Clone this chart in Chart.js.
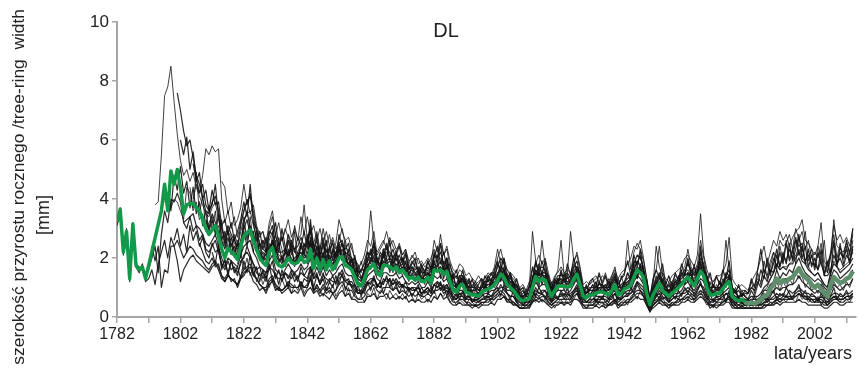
<!DOCTYPE html>
<html>
<head>
<meta charset="utf-8">
<script src="https://cdn.jsdelivr.net/npm/chart.js@4"></script>
<style>
  html, body { margin: 0; padding: 0; background: #fff; }
</style>
</head>
<body>
<canvas id="ringChart" width="859" height="369"></canvas>
<script>
// ==========================================
// TREE-RING WIDTH SERIES, SITE "DL"
// ==========================================

const tickYears = [1782, 1792, 1802, 1812, 1822, 1832, 1842, 1852, 1862, 1872, 1882, 1892,
  1902, 1912, 1922, 1932, 1942, 1952, 1962, 1972, 1982, 1992, 2002, 2012];
const labelYears = [1782, 1802, 1822, 1842, 1862, 1882, 1902, 1922, 1942, 1962, 1982, 2002];
const yTicks = [0, 2, 4, 6, 8, 10];

// mean chronology (green), 1782-1980; gap 1792-1795
const meanStart = 1782;
const meanWidth = [
  3.2, 3.65, 2.2, 2.9, 1.3, 3.15, 1.75, 1.6, 1.7, 1.3,
  null, null, null, null, 3.6, 4.5, 3.6, 4.95, 4.5, 5.0,
  4.4, 3.5, 3.8, 3.85, 3.85, 3.7, 3.6, 3.3, 3.0, 2.8,
  2.95, 3.1, 2.75, 2.3, 2.0, 2.35, 2.2, 2.1, 1.95, 2.4,
  2.75, 2.85, 2.95, 2.6, 2.3, 2.0, 1.85, 1.75, 2.2, 2.35,
  1.9, 1.75, 1.7, 1.8, 2.0, 1.85, 1.8, 1.85, 2.05, 1.85,
  1.9, 2.3, 1.65, 2.0, 1.6, 1.95, 1.6, 1.9, 1.6, 1.75,
  2.0, 2.05, 1.75, 1.7, 1.6, 1.35, 1.1, 1.05, 1.3, 1.6,
  1.7, 1.8, 1.5, 1.4, 1.75, 1.75, 1.7, 1.6, 1.7, 1.5,
  1.6, 1.45, 1.3, 1.35, 1.25, 1.35, 1.2, 1.2, 1.35, 1.15,
  1.6, 1.55, 1.6, 1.45, 1.55, 1.2, 0.9, 0.85, 1.05, 1.1,
  0.85, 0.8, 0.75, 0.75, 0.7, 0.85, 0.9, 0.95, 1.0, 1.1,
  1.25, 1.45, 1.35, 1.1, 1.0, 0.9, 0.75, 0.6, 0.55, 0.6,
  0.62, 1.0, 1.37, 1.2, 1.3, 1.25, 0.95, 0.7, 0.9, 1.05,
  1.05, 1.05, 1.0, 1.05, 1.3, 1.45, 1.1, 0.7, 0.65, 0.75,
  0.75, 0.8, 0.85, 0.85, 0.8, 0.75, 0.9, 1.1, 0.75, 0.8,
  0.95, 1.0, 1.1, 1.35, 1.6, 1.5, 1.35, 0.8, 0.42, 0.75,
  0.95, 1.15, 0.9, 0.8, 0.7, 0.8, 0.9, 1.0, 1.1, 1.25,
  1.35, 1.2, 1.05, 1.3, 1.55, 1.4, 1.0, 0.75, 0.75, 0.8,
  0.8, 0.95, 1.1, 1.2, 0.7, 0.6, 0.55, 0.6, 0.5,
];

// recent part of the mean (grey-green), 1980-2014
const recentStart = 1980;
const recentWidth = [
  0.5, 0.45, 0.5, 0.45, 0.5, 0.6, 0.7, 0.75, 0.95, 1.1, 1.3,
  1.15, 1.25, 1.2, 1.3, 1.35, 1.5, 1.65, 1.45, 1.35, 1.25,
  1.1, 1.0, 1.1, 0.95, 0.8, 0.7, 1.1, 1.35, 1.25, 1.15,
  1.2, 1.3, 1.35, 1.55,
];

// individual trees (black), each runs to 2014
const treeA = [
  3.3, 3.5, 2.4, 2.8, 1.4, 3.0, 1.8, 1.7, 1.6, 1.4,
  1.6, 2.0, 2.4, 1.5, 2.8, 3.6, 3.2, 4.0, 3.9, 4.2,
  3.9, 3.2, 3.3, 3.4, 3.5, 3.1, 3.0, 2.8, 2.5, 2.4,
  2.6, 2.8, 2.4, 2.0, 1.7, 2.0, 1.9, 1.8, 1.7, 2.1,
  2.4, 2.5, 2.6, 2.2, 2.0, 1.7, 1.6, 1.5, 1.9, 2.1,
  1.6, 1.5, 1.4, 1.6, 1.8, 1.6, 1.5, 1.6, 1.8, 1.6,
  1.7, 2.0, 1.4, 1.7, 1.4, 1.7, 1.4, 1.6, 1.4, 1.5,
  1.7, 1.8, 1.5, 1.4, 1.4, 1.1, 0.9, 0.9, 1.1, 1.4,
  1.5, 1.6, 1.3, 1.2, 1.5, 1.5, 1.4, 1.4, 1.5, 1.3,
  1.4, 1.2, 1.1, 1.2, 1.1, 1.2, 1.0, 1.0, 1.2, 1.0,
  1.4, 1.3, 1.4, 1.2, 1.3, 1.0, 0.8, 0.7, 0.9, 0.9,
  0.7, 0.7, 0.6, 0.6, 0.6, 0.7, 0.8, 0.8, 0.9, 0.9,
  1.1, 1.3, 1.2, 0.9, 0.9, 0.8, 0.6, 0.5, 0.5, 0.5,
  0.5, 0.9, 1.2, 1.0, 1.1, 1.1, 0.8, 0.6, 0.8, 0.9,
  0.9, 0.9, 0.8, 0.9, 1.1, 1.3, 0.9, 0.6, 0.5, 0.6,
  0.6, 0.7, 0.7, 0.7, 0.7, 0.6, 0.8, 0.9, 0.6, 0.7,
  0.8, 0.9, 0.9, 1.2, 1.4, 1.3, 1.1, 0.7, 0.3, 0.6,
  0.8, 1.0, 0.8, 0.7, 0.6, 0.7, 0.8, 0.8, 0.9, 1.1,
  1.2, 1.0, 0.9, 1.1, 1.3, 1.2, 0.8, 0.6, 0.6, 0.7,
  0.7, 0.8, 0.9, 1.0, 0.6, 0.5, 0.5, 0.5, 0.4, 0.4,
  0.4, 0.4, 0.4, 0.5, 0.6, 0.6, 0.8, 0.9, 1.0, 0.9,
  1.0, 1.0, 1.1, 1.1, 1.2, 1.4, 1.2, 1.1, 1.0, 0.9,
  0.8, 0.9, 0.8, 0.7, 0.6, 0.9, 1.1, 1.0, 0.9, 1.0,
  1.1, 1.1, 1.3,
];
const treeB = [
  3.1, 3.7, 2.1, 3.0, 1.2, 3.2, 1.7, 1.5, 1.8, 1.2,
  1.3, 1.6, 1.1, 1.8, 2.2, 2.6, 2.0, 2.7, 2.4, 2.6,
  2.3, 2.0, 2.2, 2.4, 2.3, 2.1, 2.0, 1.9, 1.7, 1.6,
  1.8, 1.9, 1.7, 1.4, 1.2, 1.4, 1.3, 1.2, 1.1, 1.4,
  1.6, 1.7, 1.8, 1.5, 1.3, 1.1, 1.0, 1.0, 1.3, 1.4,
  1.1, 1.0, 0.9, 1.0, 1.2, 1.1, 1.0, 1.0, 1.2, 1.0,
  1.1, 1.4, 0.9, 1.1, 0.9, 1.1, 0.9, 1.0, 0.8, 0.9,
  1.1, 1.2, 1.0, 0.9, 0.9, 0.7, 0.6, 0.6, 0.7, 0.9,
  1.0, 1.1, 0.9, 0.8, 1.0, 1.0, 1.0, 0.9, 1.0, 0.8,
  0.9, 0.8, 0.7, 0.8, 0.7, 0.8, 0.7, 0.7, 0.8, 0.7,
  0.9, 0.9, 1.0, 0.8, 0.9, 0.7, 0.5, 0.5, 0.6, 0.6,
  0.5, 0.5, 0.4, 0.4, 0.4, 0.5, 0.5, 0.6, 0.6, 0.7,
  0.8, 0.9, 0.8, 0.6, 0.6, 0.5, 0.4, 0.3, 0.3, 0.4,
  0.4, 0.6, 0.8, 0.7, 0.8, 0.7, 0.5, 0.4, 0.5, 0.6,
  0.6, 0.6, 0.6, 0.6, 0.8, 0.9, 0.6, 0.4, 0.4, 0.4,
  0.4, 0.5, 0.5, 0.5, 0.5, 0.4, 0.5, 0.6, 0.4, 0.5,
  0.5, 0.6, 0.6, 0.8, 0.9, 0.9, 0.8, 0.5, 0.2, 0.4,
  0.5, 0.7, 0.5, 0.5, 0.4, 0.5, 0.5, 0.6, 0.6, 0.7,
  0.8, 0.7, 0.6, 0.8, 0.9, 0.8, 0.6, 0.4, 0.4, 0.5,
  0.5, 0.5, 0.6, 0.7, 0.4, 0.4, 0.3, 0.4, 0.3, 0.3,
  0.3, 0.3, 0.3, 0.3, 0.4, 0.4, 0.4, 0.5, 0.6, 0.5,
  0.6, 0.6, 0.6, 0.6, 0.7, 0.8, 0.7, 0.6, 0.6, 0.5,
  0.5, 0.5, 0.5, 0.4, 0.4, 0.5, 0.6, 0.6, 0.5, 0.5,
  0.6, 0.6, 0.7,
];
const treeC = [
  3.8, 3.9, 5.5, 7.5, 7.8, 8.5, 7.3, 6.2,
  5.3, 4.8, 5.0, 4.6, 4.9, 4.4, 4.1, 3.8, 3.5, 3.4,
  3.7, 3.9, 3.3, 2.8, 2.5, 2.9, 2.7, 2.5, 2.3, 2.9,
  3.3, 3.5, 3.6, 3.1, 2.7, 2.3, 2.2, 2.1, 2.6, 2.9,
  2.3, 2.1, 2.0, 2.1, 2.5, 2.3, 2.2, 2.2, 2.5, 2.3,
  2.4, 2.9, 2.0, 2.4, 2.0, 2.4, 1.9, 2.3, 1.9, 2.1,
  2.4, 2.5, 2.1, 2.0, 1.9, 1.6, 1.3, 1.2, 1.5, 1.9,
  2.0, 2.2, 1.8, 1.7, 2.1, 2.2, 2.0, 1.9, 2.1, 1.8,
  1.9, 1.7, 1.5, 1.6, 1.5, 1.6, 1.4, 1.4, 1.6, 1.4,
  1.9, 1.9, 2.0, 1.7, 1.9, 1.4, 1.1, 1.0, 1.3, 1.3,
  1.0, 1.0, 0.9, 0.9, 0.8, 1.0, 1.1, 1.1, 1.2, 1.3,
  1.5, 1.7, 1.6, 1.3, 1.2, 1.1, 0.9, 0.7, 0.7, 0.7,
  0.8, 1.2, 1.6, 1.4, 1.5, 1.5, 1.1, 0.8, 1.1, 1.3,
  1.3, 1.2, 1.2, 1.3, 1.6, 1.7, 1.3, 0.8, 0.8, 0.9,
  0.9, 1.0, 1.0, 1.0, 1.0, 0.9, 1.1, 1.3, 0.9, 1.0,
  1.1, 1.2, 1.3, 1.6, 1.9, 1.8, 1.6, 1.0, 0.5, 0.9,
  1.1, 1.4, 1.1, 1.0, 0.8, 1.0, 1.1, 1.2, 1.3, 1.5,
  1.6, 1.4, 1.3, 1.6, 1.9, 1.7, 1.2, 0.9, 0.9, 1.0,
  1.0, 1.1, 1.3, 1.4, 0.8, 0.7, 0.7, 0.7, 0.6, 0.6,
  0.7, 0.6, 0.7, 0.8, 0.9, 1.0, 1.3, 1.5, 1.8, 1.6,
  1.7, 1.7, 1.8, 1.9, 2.1, 2.3, 2.0, 1.9, 1.7, 1.5,
  1.4, 1.5, 1.3, 1.1, 1.0, 1.5, 1.9, 1.7, 1.6, 1.7,
  1.8, 1.9, 2.2,
];
const treeD = [
  2.4, 1.9, 2.4, 1.0, 1.6, 1.5, 2.4, 2.4, 1.9,
  1.2, 1.6, 1.8, 2.0, 2.1, 1.9, 1.8, 1.7, 1.6, 1.5,
  1.7, 1.8, 1.6, 1.3, 1.2, 1.4, 1.3, 1.2, 1.1, 1.3,
  1.5, 1.6, 1.7, 1.4, 1.3, 1.1, 1.0, 0.9, 1.2, 1.3,
  1.0, 0.9, 0.9, 1.0, 1.1, 1.0, 1.0, 1.0, 1.1, 1.0,
  1.0, 1.3, 0.9, 1.0, 0.8, 1.0, 0.8, 0.9, 0.8, 0.9,
  1.3, 1.4, 1.2, 1.1, 1.1, 0.9, 0.8, 0.8, 0.9, 1.1,
  1.2, 1.3, 1.1, 1.0, 1.2, 1.3, 1.2, 1.1, 1.2, 1.0,
  1.1, 1.0, 0.9, 1.0, 0.9, 1.0, 0.8, 0.9, 1.0, 0.8,
  1.1, 1.0, 1.1, 0.9, 1.0, 0.8, 0.6, 0.6, 0.7, 0.7,
  0.5, 0.4, 0.4, 0.4, 0.4, 0.5, 0.5, 0.5, 0.6, 0.6,
  0.7, 0.8, 0.7, 0.6, 0.5, 0.5, 0.4, 0.3, 0.3, 0.3,
  0.4, 0.5, 0.7, 0.6, 0.7, 0.7, 0.5, 0.4, 0.5, 0.5,
  0.5, 0.5, 0.5, 0.5, 0.7, 0.8, 0.6, 0.4, 0.3, 0.4,
  0.4, 0.4, 0.5, 0.5, 0.4, 0.4, 0.5, 0.6, 0.4, 0.4,
  0.5, 0.5, 0.6, 0.7, 0.8, 0.8, 0.7, 0.4, 0.2, 0.4,
  0.5, 0.6, 0.5, 0.4, 0.4, 0.4, 0.5, 0.5, 0.6, 0.6,
  0.7, 0.6, 0.6, 0.7, 0.8, 0.7, 0.5, 0.4, 0.4, 0.4,
  0.4, 0.5, 0.6, 0.6, 0.4, 0.3, 0.3, 0.3, 0.3, 0.3,
  0.3, 0.3, 0.3, 0.3, 0.4, 0.4, 0.5, 0.5, 0.6, 0.6,
  0.6, 0.7, 0.6, 0.7, 0.7, 0.8, 0.7, 0.7, 0.6, 0.6,
  0.5, 0.6, 0.5, 0.5, 0.4, 0.6, 0.7, 0.6, 0.6, 0.6,
  0.7, 0.7, 0.8,
];
const treeE = [
  7.6,
  7.0, 6.3, 5.8, 6.0, 5.4, 4.8, 4.5, 4.0, 3.6, 3.5,
  3.9, 4.1, 3.6, 3.0, 2.7, 3.1, 2.8, 2.6, 2.4, 3.1,
  3.6, 3.9, 4.1, 3.4, 2.9, 2.5, 2.3, 2.2, 2.8, 3.1,
  2.4, 2.2, 2.2, 2.3, 2.6, 2.4, 2.3, 2.4, 2.7, 2.4,
  2.5, 3.0, 2.2, 2.6, 2.1, 2.5, 2.0, 2.4, 2.0, 2.2,
  2.5, 2.6, 2.2, 2.1, 2.0, 1.7, 1.4, 1.3, 1.6, 2.0,
  2.2, 2.4, 1.9, 1.8, 2.3, 2.3, 2.2, 2.0, 2.2, 1.9,
  2.0, 1.8, 1.6, 1.7, 1.6, 1.7, 1.5, 1.5, 1.7, 1.5,
  2.1, 2.0, 2.2, 1.8, 2.0, 1.5, 1.2, 1.1, 1.4, 1.4,
  1.1, 1.0, 1.0, 1.0, 0.9, 1.1, 1.2, 1.2, 1.3, 1.4,
  1.7, 2.0, 1.8, 1.4, 1.3, 1.2, 1.0, 0.8, 0.7, 0.8,
  0.8, 1.3, 1.8, 1.6, 1.7, 1.6, 1.2, 0.9, 1.2, 1.4,
  1.4, 1.4, 1.3, 1.4, 1.7, 1.9, 1.4, 0.9, 0.8, 1.0,
  1.0, 1.0, 1.1, 1.1, 1.0, 1.0, 1.2, 1.4, 1.0, 1.0,
  1.2, 1.3, 1.4, 1.8, 2.1, 2.0, 1.7, 1.0, 0.6, 1.0,
  1.2, 1.5, 1.2, 1.0, 0.9, 1.0, 1.2, 1.3, 1.4, 1.6,
  1.8, 1.6, 1.4, 1.7, 2.0, 1.8, 1.3, 1.0, 1.0, 1.0,
  1.0, 1.2, 1.4, 1.6, 0.9, 0.8, 0.7, 0.8, 0.7, 0.6,
  0.7, 0.7, 0.7, 0.8, 1.0, 1.1, 1.3, 1.5, 1.8, 1.6,
  1.7, 1.6, 1.8, 1.8, 2.0, 2.2, 1.9, 1.8, 1.6, 1.5,
  1.4, 1.5, 1.3, 1.1, 1.0, 1.5, 1.8, 1.7, 1.5, 1.6,
  1.7, 1.8, 2.0,
];
const treeF = [
  3.9, 4.1, 3.7, 4.0, 3.9,
  3.6, 3.3, 4.4, 4.2, 3.6, 3.9, 3.3, 3.5, 2.9, 3.2,
  3.4, 2.9, 3.1, 2.4, 2.6, 2.2, 2.5, 2.0, 2.6, 2.4,
  3.1, 2.7, 3.4, 2.5, 2.6, 1.9, 2.2, 1.8, 2.5, 2.2,
  2.6, 1.8, 2.1, 1.7, 2.2, 2.0, 1.7, 2.1, 1.9, 2.3,
  1.8, 2.6, 1.7, 2.2, 1.5, 2.1, 1.8, 1.7, 2.0, 1.6,
  2.3, 1.9, 1.8, 2.0, 1.5, 1.6, 1.2, 1.3, 1.2, 1.8,
  1.6, 2.1, 1.4, 1.7, 1.6, 2.0, 1.5, 1.8, 1.5, 1.7,
  1.4, 1.7, 1.2, 1.5, 1.3, 1.2, 1.4, 1.1, 1.5, 1.2,
  1.5, 1.8, 1.4, 1.7, 1.3, 1.4, 1.0, 1.1, 0.9, 1.3,
  0.8, 1.0, 0.7, 0.9, 0.8, 0.7, 1.1, 0.9, 1.2, 1.0,
  1.4, 1.3, 1.6, 1.0, 1.2, 0.8, 0.9, 0.6, 0.7, 0.5,
  0.8, 0.9, 1.5, 1.1, 1.5, 1.2, 1.1, 0.6, 1.0, 0.9,
  1.2, 0.9, 1.2, 1.0, 1.4, 1.3, 1.2, 0.6, 0.8, 0.7,
  0.9, 0.7, 1.0, 0.8, 0.9, 0.7, 1.0, 1.1, 0.8, 0.9,
  0.9, 1.2, 1.0, 1.5, 1.4, 1.7, 1.2, 0.9, 0.4, 0.8,
  1.0, 1.1, 1.0, 0.8, 0.9, 0.7, 1.0, 0.9, 1.2, 1.1,
  1.5, 1.1, 1.2, 1.2, 1.7, 1.3, 1.1, 0.7, 0.9, 0.7,
  1.0, 0.8, 1.2, 1.1, 0.8, 0.6, 0.7, 0.5, 0.6, 0.5,
  0.6, 0.4, 0.6, 0.5, 0.7, 0.6, 0.9, 0.8, 1.2, 0.9,
  1.2, 1.0, 1.3, 1.1, 1.5, 1.3, 1.4, 1.0, 1.2, 0.9,
  1.0, 0.8, 1.1, 0.7, 0.8, 0.9, 1.2, 1.0, 1.1, 0.9,
  1.2, 1.0, 1.3,
];
const treeG = [
  2.6, 3.0,
  2.4, 2.8, 2.2, 3.1, 2.6, 2.9, 2.4, 2.7, 2.2, 2.0,
  2.5, 2.2, 2.3, 1.7, 1.9, 1.5, 1.9, 1.6, 1.4, 1.9,
  2.0, 2.4, 2.1, 1.8, 1.6, 1.7, 1.3, 1.5, 1.6, 1.9,
  1.3, 1.6, 1.2, 1.5, 1.3, 1.6, 1.4, 1.2, 1.7, 1.4,
  1.6, 1.7, 1.3, 1.5, 1.1, 1.4, 1.3, 1.2, 1.4, 1.1,
  1.5, 1.4, 1.2, 1.3, 1.0, 1.1, 0.8, 0.9, 0.8, 1.2,
  1.1, 1.4, 1.0, 1.2, 1.1, 1.4, 1.0, 1.3, 1.1, 1.2,
  1.0, 1.2, 0.9, 1.0, 1.0, 0.8, 1.0, 0.8, 0.9, 0.9,
  1.1, 1.0, 1.2, 0.9, 1.1, 0.8, 0.7, 0.6, 0.8, 0.7,
  0.6, 0.7, 0.5, 0.6, 0.5, 0.6, 0.6, 0.7, 0.6, 0.8,
  0.9, 1.1, 0.9, 0.8, 0.7, 0.7, 0.5, 0.5, 0.4, 0.5,
  0.5, 0.7, 0.9, 0.8, 0.8, 0.9, 0.6, 0.5, 0.7, 0.6,
  0.8, 0.6, 0.8, 0.7, 0.9, 1.0, 0.7, 0.5, 0.5, 0.5,
  0.5, 0.6, 0.5, 0.7, 0.5, 0.6, 0.6, 0.8, 0.5, 0.6,
  0.7, 0.7, 0.8, 0.9, 1.2, 1.0, 0.9, 0.6, 0.3, 0.5,
  0.7, 0.8, 0.6, 0.7, 0.5, 0.6, 0.7, 0.6, 0.8, 0.8,
  0.9, 0.8, 0.7, 0.9, 1.1, 0.9, 0.7, 0.5, 0.6, 0.5,
  0.6, 0.6, 0.8, 0.7, 0.5, 0.5, 0.4, 0.5, 0.4, 0.4,
  0.5, 0.4, 0.5, 0.4, 0.5, 0.6, 0.6, 0.7, 0.8, 0.7,
  0.8, 0.7, 0.9, 0.8, 0.9, 1.0, 0.9, 0.8, 0.8, 0.7,
  0.7, 0.6, 0.7, 0.6, 0.5, 0.7, 0.8, 0.8, 0.7, 0.7,
  0.8, 0.8, 0.9,
];
const treeH = [
  6.0, 5.5, 6.1, 5.0, 5.6, 4.7, 4.2, 4.5, 3.8, 3.6,
  4.3, 3.8, 3.9, 3.1, 3.3, 2.8, 3.2, 2.6, 2.9, 3.3,
  3.9, 3.4, 4.5, 3.2, 3.0, 2.4, 2.6, 2.2, 2.9, 2.8,
  3.2, 2.4, 2.7, 2.2, 2.8, 2.5, 2.2, 2.7, 2.4, 2.9,
  2.3, 3.3, 2.2, 2.8, 2.0, 2.6, 2.2, 2.3, 2.5, 2.0,
  2.8, 2.4, 2.3, 2.5, 1.9, 2.0, 1.5, 1.6, 1.6, 2.2,
  2.1, 2.6, 1.8, 2.2, 2.0, 2.5, 2.0, 2.3, 1.9, 2.1,
  1.8, 2.1, 1.6, 1.9, 1.7, 1.6, 1.8, 1.5, 1.9, 1.6,
  2.0, 2.4, 1.8, 2.2, 1.7, 1.8, 1.3, 1.4, 1.2, 1.6,
  1.1, 1.3, 1.0, 1.2, 1.0, 1.0, 1.4, 1.2, 1.5, 1.3,
  1.8, 1.6, 2.0, 1.3, 1.5, 1.1, 1.1, 0.8, 0.9, 0.7,
  1.0, 1.2, 1.9, 1.4, 1.9, 1.5, 1.4, 0.8, 1.2, 1.1,
  1.5, 1.2, 1.5, 1.3, 1.7, 1.7, 1.5, 0.8, 1.0, 0.9,
  1.1, 0.9, 1.2, 1.0, 1.1, 0.9, 1.2, 1.4, 1.0, 1.1,
  1.2, 1.5, 1.3, 1.9, 1.8, 2.1, 1.5, 1.1, 0.5, 1.0,
  1.3, 1.4, 1.2, 1.0, 1.1, 0.9, 1.2, 1.1, 1.5, 1.4,
  1.9, 1.4, 1.5, 1.5, 2.2, 1.6, 1.4, 0.9, 1.1, 0.9,
  1.2, 1.0, 1.5, 1.4, 1.0, 0.8, 0.9, 0.7, 0.8, 0.8,
  1.0, 0.9, 1.2, 1.0, 1.4, 1.2, 1.6, 1.5, 2.1, 1.7,
  2.1, 1.9, 2.3, 2.0, 2.6, 2.4, 2.5, 1.9, 2.1, 1.8,
  1.8, 1.6, 1.9, 1.4, 1.4, 1.6, 2.1, 1.8, 2.0, 1.7,
  2.1, 1.9, 2.3,
];
const treeI = [
  4.0, 4.5, 4.2, 4.8, 5.7, 5.5,
  5.8, 5.6, 5.7, 4.0, 3.2, 3.6, 3.0, 3.4, 2.7, 3.2,
  3.6, 4.0, 3.5, 3.8, 3.1, 2.8, 2.9, 2.5, 3.2, 3.6,
  2.8, 3.2, 2.6, 2.9, 3.3, 2.7, 3.0, 2.6, 3.4, 2.8,
  3.4, 2.8, 3.1, 2.6, 3.0, 2.5, 2.9, 2.4, 2.7, 2.3,
  2.6, 3.0, 2.4, 2.2, 2.5, 1.9, 1.8, 1.5, 1.9, 2.3,
  3.6, 2.5, 2.2, 2.4, 2.6, 2.3, 2.7, 2.4, 2.2, 2.5,
  2.1, 2.3, 1.9, 2.0, 2.2, 1.8, 1.9, 1.7, 1.8, 2.0,
  2.3, 2.0, 2.8, 2.1, 2.4, 1.9, 1.6, 1.5, 1.8, 1.7,
  1.4, 1.5, 1.3, 1.2, 1.4, 1.2, 1.3, 1.5, 1.4, 1.7,
  2.3, 1.8, 2.0, 1.6, 1.5, 1.4, 1.2, 1.0, 1.1, 0.9,
  1.0, 1.6, 1.8, 2.1, 1.8, 2.0, 1.5, 1.1, 1.4, 1.5,
  1.7, 1.5, 1.6, 1.5, 1.8, 2.2, 1.7, 1.1, 1.2, 1.1,
  1.3, 1.4, 1.2, 1.4, 1.3, 1.2, 1.4, 1.6, 1.3, 1.5,
  1.6, 1.8, 2.0, 2.4, 2.3, 2.6, 2.0, 1.3, 0.7, 1.2,
  1.6, 2.4, 1.5, 1.3, 1.2, 1.4, 1.5, 1.6, 1.7, 2.0,
  2.1, 1.9, 1.7, 2.1, 3.5, 2.1, 1.6, 1.3, 1.2, 1.4,
  1.4, 1.5, 1.8, 2.7, 1.3, 1.1, 1.0, 1.1, 1.0, 0.9,
  1.2, 1.4, 1.6, 2.0, 2.4, 1.8, 2.2, 2.6, 2.4, 2.9,
  2.6, 2.8, 2.4, 2.7, 2.9, 3.0, 3.3, 2.6, 2.5, 2.3,
  2.1, 2.4, 3.2, 1.9, 1.7, 2.2, 3.1, 2.6, 2.8, 2.5,
  2.7, 2.4, 3.0,
];
const treeJ = [
  2.5, 2.2, 1.9, 1.8,
  2.0, 1.7, 1.8, 1.4, 1.3, 1.5, 1.2, 1.3, 1.0, 1.3,
  1.4, 1.6, 1.5, 1.2, 1.1, 0.9, 1.0, 0.8, 1.1, 1.2,
  0.9, 1.0, 0.8, 0.9, 1.0, 0.8, 0.9, 0.8, 1.0, 0.7,
  0.9, 1.0, 0.8, 0.9, 0.7, 0.8, 0.7, 0.6, 0.8, 0.6,
  0.8, 0.9, 0.7, 0.8, 0.6, 0.6, 0.5, 0.5, 0.5, 0.7,
  0.7, 0.8, 0.6, 0.7, 0.7, 0.8, 0.6, 0.7, 0.6, 0.7,
  0.6, 0.7, 0.5, 0.6, 0.5, 0.6, 0.5, 0.5, 0.6, 0.5,
  0.7, 0.6, 0.8, 0.6, 0.7, 0.5, 0.4, 0.4, 0.5, 0.4,
  0.4, 0.4, 0.3, 0.4, 0.3, 0.4, 0.4, 0.4, 0.5, 0.4,
  0.6, 0.6, 0.7, 0.5, 0.5, 0.4, 0.4, 0.3, 0.3, 0.3,
  0.3, 0.5, 0.6, 0.5, 0.6, 0.5, 0.4, 0.3, 0.4, 0.4,
  0.5, 0.4, 0.5, 0.4, 0.6, 0.6, 0.5, 0.3, 0.3, 0.3,
  0.3, 0.4, 0.3, 0.4, 0.3, 0.4, 0.4, 0.5, 0.3, 0.4,
  0.4, 0.5, 0.5, 0.6, 0.7, 0.6, 0.6, 0.4, 0.2, 0.3,
  0.4, 0.5, 0.4, 0.4, 0.3, 0.4, 0.4, 0.4, 0.5, 0.5,
  0.6, 0.5, 0.5, 0.6, 0.7, 0.6, 0.5, 0.3, 0.4, 0.3,
  0.4, 0.4, 0.5, 0.5, 0.3, 0.3, 0.3, 0.3, 0.3, 0.3,
  0.3, 0.3, 0.3, 0.3, 0.3, 0.4, 0.4, 0.4, 0.5, 0.4,
  0.5, 0.5, 0.5, 0.5, 0.5, 0.6, 0.5, 0.5, 0.4, 0.4,
  0.4, 0.4, 0.4, 0.3, 0.3, 0.4, 0.5, 0.5, 0.4, 0.4,
  0.5, 0.5, 0.5,
];
const treeK = [
  3.3, 3.0,
  3.5, 3.2, 2.9, 2.6, 2.3, 2.7, 2.2, 2.4, 2.0, 2.6,
  3.0, 3.3, 2.8, 2.9, 2.2, 2.1, 1.9, 2.0, 2.3, 2.6,
  2.1, 1.9, 2.0, 1.8, 2.3, 1.9, 2.0, 2.1, 2.2, 2.0,
  2.1, 2.5, 1.9, 2.2, 1.8, 2.1, 1.7, 2.0, 1.8, 1.9,
  2.1, 2.3, 1.9, 1.8, 1.7, 1.4, 1.2, 1.1, 1.4, 1.7,
  1.9, 1.9, 1.6, 1.5, 1.9, 1.8, 1.9, 1.7, 1.8, 1.6,
  1.7, 1.5, 1.4, 1.4, 1.3, 1.5, 1.3, 1.3, 1.4, 1.2,
  1.7, 1.6, 1.7, 1.5, 1.7, 1.3, 1.0, 0.9, 1.2, 1.2,
  0.9, 0.9, 0.8, 0.8, 0.8, 0.9, 1.0, 1.0, 1.1, 1.2,
  1.3, 1.6, 1.4, 1.2, 1.1, 1.0, 0.8, 0.7, 0.6, 0.7,
  0.7, 1.1, 1.5, 1.3, 1.4, 1.4, 1.0, 0.8, 1.0, 1.2,
  1.1, 1.2, 1.1, 1.2, 1.4, 1.6, 1.2, 0.8, 0.7, 0.8,
  0.8, 0.9, 0.9, 0.9, 0.9, 0.8, 1.0, 1.2, 0.8, 0.9,
  1.0, 1.1, 1.2, 1.5, 1.7, 1.6, 1.5, 0.9, 0.4, 0.8,
  1.0, 1.2, 1.0, 0.9, 0.8, 0.9, 1.0, 1.1, 1.2, 1.3,
  1.4, 1.3, 1.1, 1.4, 1.7, 1.5, 1.1, 0.8, 0.8, 0.9,
  0.9, 1.0, 1.2, 1.3, 0.8, 0.6, 0.6, 0.6, 0.5, 0.5,
  0.5, 0.5, 0.5, 0.6, 0.7, 0.8, 0.9, 1.1, 1.3, 1.2,
  1.3, 1.3, 1.3, 1.4, 1.5, 1.7, 1.5, 1.4, 1.3, 1.2,
  1.0, 1.1, 1.1, 0.9, 0.8, 1.1, 1.4, 1.3, 1.2, 1.2,
  1.3, 1.4, 1.6,
];
const treeL = [
  4.6, 4.4, 3.5, 3.9, 3.1, 3.3, 3.7,
  4.5, 3.8, 4.2, 3.6, 3.0, 2.7, 2.9, 2.4, 3.0, 3.4,
  2.7, 2.5, 2.6, 3.0, 2.7, 2.4, 3.1, 2.6, 2.8, 3.8,
  2.6, 3.1, 2.5, 2.9, 2.3, 3.0, 2.4, 2.8, 2.2, 2.5,
  3.3, 2.9, 2.6, 2.7, 2.3, 2.0, 1.7, 1.8, 2.1, 2.6,
  2.4, 2.9, 2.1, 2.3, 2.5, 2.9, 2.4, 2.6, 2.3, 2.4,
  2.1, 2.3, 1.8, 2.1, 1.9, 2.0, 1.7, 1.8, 2.0, 1.8,
  2.6, 2.2, 2.5, 2.1, 2.3, 1.7, 1.5, 1.3, 1.6, 1.5,
  1.3, 1.2, 1.2, 1.1, 1.2, 1.3, 1.2, 1.4, 1.5, 1.5,
  2.0, 2.3, 1.8, 1.6, 1.4, 1.3, 1.1, 0.9, 1.0, 0.9,
  1.0, 2.9, 1.9, 1.6, 2.6, 1.7, 1.4, 1.0, 1.3, 1.6,
  2.6, 1.4, 1.5, 2.9, 1.9, 2.1, 1.6, 1.0, 1.0, 1.1,
  1.2, 1.3, 1.4, 1.2, 1.5, 1.1, 1.4, 1.7, 1.1, 1.3,
  1.4, 2.6, 1.6, 2.2, 2.5, 2.3, 1.9, 1.3, 0.6, 1.1,
  2.4, 1.7, 1.4, 1.2, 1.0, 1.2, 1.4, 1.3, 1.6, 1.7,
  2.3, 1.7, 1.5, 1.8, 2.6, 2.0, 1.4, 1.1, 1.2, 1.3,
  1.2, 1.4, 2.6, 1.6, 1.0, 0.9, 1.0, 0.9, 0.9, 0.8,
  1.0, 1.1, 1.3, 1.2, 1.6, 1.4, 1.9, 2.2, 2.0, 2.6,
  2.4, 2.5, 2.8, 2.3, 3.0, 2.6, 2.9, 2.3, 2.6, 2.0,
  2.2, 2.0, 2.5, 1.7, 1.5, 2.0, 3.3, 2.4, 2.3, 2.2,
  2.5, 2.2, 2.8,
];
const treeM = [
  3.2, 3.0, 3.4, 2.9, 3.1, 2.6, 2.8, 2.3, 2.2,
  2.4, 2.6, 2.2, 1.8, 1.6, 1.9, 1.6, 1.7, 1.5, 1.8,
  2.1, 2.2, 2.0, 1.8, 1.5, 1.4, 1.5, 1.2, 1.7, 1.6,
  1.4, 1.3, 1.3, 1.5, 1.4, 1.3, 1.5, 1.3, 1.5, 1.4,
  1.3, 1.7, 1.3, 1.4, 1.2, 1.5, 1.1, 1.3, 1.2, 1.2,
  1.4, 1.6, 1.3, 1.2, 1.2, 1.0, 0.8, 0.8, 1.0, 1.2,
  1.3, 1.3, 1.1, 1.0, 1.3, 1.2, 1.3, 1.1, 1.3, 1.1,
  1.1, 1.0, 1.0, 0.9, 0.9, 1.0, 0.8, 0.9, 1.0, 0.8,
  1.1, 1.2, 1.1, 1.0, 1.1, 0.9, 0.7, 0.6, 0.8, 0.8,
  0.6, 0.6, 0.6, 0.5, 0.5, 0.6, 0.7, 0.7, 0.7, 0.8,
  0.9, 1.0, 1.0, 0.8, 0.7, 0.7, 0.5, 0.4, 0.4, 0.4,
  0.5, 0.7, 1.0, 0.8, 0.9, 0.9, 0.7, 0.5, 0.6, 0.7,
  0.7, 0.8, 0.7, 0.8, 0.9, 1.1, 0.8, 0.5, 0.5, 0.5,
  0.6, 0.6, 0.6, 0.6, 0.6, 0.5, 0.7, 0.8, 0.6, 0.6,
  0.7, 0.8, 0.8, 1.0, 1.2, 1.1, 1.0, 0.6, 0.3, 0.5,
  0.7, 0.9, 0.7, 0.6, 0.5, 0.6, 0.7, 0.7, 0.8, 0.9,
  1.0, 0.9, 0.8, 1.0, 1.1, 1.0, 0.7, 0.5, 0.5, 0.6,
  0.6, 0.7, 0.8, 0.8, 0.5, 0.4, 0.4, 0.4, 0.4, 0.4,
  0.4, 0.4, 0.4, 0.4, 0.5, 0.5, 0.6, 0.6, 0.7, 0.6,
  0.7, 0.7, 0.7, 0.7, 0.8, 0.9, 0.8, 0.7, 0.7, 0.6,
  0.6, 0.6, 0.6, 0.5, 0.5, 0.6, 0.7, 0.7, 0.6, 0.6,
  0.7, 0.7, 0.8,
];
const treeN = [
  5.2, 4.6, 4.9, 4.0, 4.3, 3.6,
  3.8, 4.5, 3.4, 3.0, 2.6, 2.9, 2.4, 2.7, 2.2, 2.5,
  3.2, 3.6, 3.0, 2.8, 2.4, 2.2, 2.0, 2.1, 2.4, 2.5,
  2.3, 2.0, 1.8, 2.2, 2.1, 2.3, 1.8, 2.0, 2.4, 2.1,
  2.0, 2.7, 1.8, 2.4, 1.9, 2.2, 1.8, 2.1, 1.7, 2.2,
  2.2, 2.5, 2.0, 1.8, 2.0, 1.5, 1.3, 1.2, 1.6, 1.7,
  2.0, 2.0, 1.7, 1.6, 2.1, 1.9, 2.0, 1.8, 2.0, 1.7,
  1.8, 1.6, 1.5, 1.6, 1.4, 1.6, 1.3, 1.4, 1.5, 1.3,
  1.8, 1.7, 1.9, 1.6, 1.7, 1.4, 1.1, 1.0, 1.2, 1.3,
  1.0, 0.9, 0.9, 0.9, 0.8, 1.0, 1.0, 1.1, 1.1, 1.3,
  1.4, 1.8, 1.5, 1.3, 1.2, 1.1, 0.9, 0.7, 0.7, 0.8,
  0.8, 1.2, 1.6, 1.4, 1.5, 1.5, 1.1, 0.8, 1.1, 1.3,
  1.2, 1.3, 1.2, 1.2, 1.5, 1.7, 1.3, 0.8, 0.8, 0.9,
  0.9, 0.9, 1.0, 1.0, 0.9, 0.9, 1.1, 1.3, 0.9, 0.9,
  1.1, 1.2, 1.3, 1.6, 1.9, 1.7, 1.6, 1.0, 0.4, 0.9,
  1.1, 1.3, 1.1, 0.9, 0.9, 0.9, 1.1, 1.2, 1.3, 1.4,
  1.5, 1.4, 1.2, 1.5, 1.8, 1.6, 1.2, 0.9, 0.8, 0.9,
  1.0, 1.1, 1.3, 1.4, 0.8, 0.7, 0.6, 0.6, 0.6, 0.5,
  0.6, 0.6, 0.6, 0.7, 0.9, 0.9, 1.1, 1.2, 1.6, 1.3,
  1.5, 1.4, 1.6, 1.5, 1.8, 2.0, 1.7, 1.5, 1.4, 1.3,
  1.2, 1.3, 1.2, 1.0, 0.9, 1.3, 1.6, 1.5, 1.3, 1.4,
  1.5, 1.6, 1.8,
];
const treeO = [
  4.4, 3.7, 4.9, 3.5, 4.1, 3.0, 3.8,
  2.9, 3.6, 2.6, 3.3, 2.4, 3.0, 2.1, 2.8, 2.5, 2.2,
  3.4, 2.6, 3.0, 2.2, 2.9, 2.0, 2.6, 2.3, 1.9, 2.8,
  2.0, 2.7, 2.3, 1.8, 2.6, 2.1, 2.9, 1.9, 2.4, 2.2,
  2.8, 2.0, 2.5, 1.8, 2.3, 2.7, 1.9, 2.2, 2.6, 1.8,
  2.3, 1.9, 2.6, 2.0, 1.7, 2.1, 1.5, 1.9, 1.4, 2.0,
  1.8, 2.3, 1.6, 2.1, 1.7, 2.4, 1.9, 1.5, 2.2, 1.7,
  2.0, 1.5, 1.8, 1.3, 1.9, 1.4, 1.7, 1.6, 1.2, 1.8,
  1.5, 2.1, 1.3, 1.9, 1.6, 1.2, 1.5, 0.9, 1.4, 1.0,
  1.3, 0.8, 1.1, 1.0, 0.7, 1.2, 0.9, 1.3, 1.0, 1.5,
  1.2, 1.7, 1.1, 1.5, 0.9, 1.2, 0.8, 1.0, 0.6, 0.9,
  1.2, 0.8, 1.4, 1.0, 1.6, 1.1, 0.9, 1.2, 0.7, 1.3,
  1.0, 1.5, 0.9, 1.3, 1.1, 1.6, 0.8, 1.0, 0.6, 0.9,
  1.1, 0.7, 1.2, 0.9, 1.0, 1.3, 0.8, 1.1, 0.9, 1.4,
  1.0, 1.5, 1.2, 1.8, 1.3, 1.6, 1.1, 1.3, 0.6, 1.0,
  1.4, 1.0, 1.5, 0.8, 1.2, 0.9, 1.3, 1.0, 1.6, 1.1,
  1.5, 1.2, 1.8, 1.1, 1.6, 1.3, 0.9, 1.2, 0.8, 1.1,
  0.9, 1.3, 1.0, 1.4, 0.7, 1.0, 0.6, 0.9, 0.7, 0.8,
  1.2, 0.8, 1.5, 1.1, 1.9, 1.3, 1.7, 2.2, 1.6, 2.4,
  1.9, 2.6, 2.0, 2.3, 1.8, 2.7, 2.2, 2.9, 1.9, 2.3,
  1.7, 2.4, 1.9, 2.6, 1.5, 2.1, 2.8, 2.0, 2.5, 1.8,
  2.4, 1.9, 2.6,
];
const treeP = [
  2.2, 1.8, 2.5, 1.6, 2.0, 1.4, 1.9, 1.5, 1.7, 1.3,
  1.9, 1.5, 2.1, 1.4, 1.7, 1.2, 1.6, 1.3, 1.8, 1.2,
  1.5, 1.1, 1.6, 1.3, 1.0, 1.5, 1.2, 1.4, 1.0, 1.3,
  1.2, 1.6, 1.0, 1.4, 1.1, 1.3, 0.9, 1.2, 1.0, 1.4,
  1.1, 1.5, 0.9, 1.2, 1.0, 0.8, 1.1, 0.7, 1.0, 1.2,
  0.9, 1.3, 1.0, 1.2, 0.8, 1.1, 1.3, 0.9, 1.1, 0.8,
  1.1, 0.8, 1.0, 0.7, 0.9, 1.1, 0.7, 0.9, 0.8, 1.0,
  0.8, 1.2, 0.9, 1.1, 0.7, 1.0, 0.6, 0.8, 0.6, 0.9,
  0.6, 0.8, 0.5, 0.7, 0.6, 0.9, 0.6, 0.8, 0.7, 0.9,
  1.0, 0.7, 1.1, 0.8, 0.6, 0.9, 0.5, 0.7, 0.4, 0.6,
  0.5, 0.9, 0.7, 1.0, 0.8, 0.6, 0.9, 0.5, 0.8, 0.6,
  0.9, 0.7, 1.0, 0.6, 0.8, 1.0, 0.6, 0.7, 0.5, 0.6,
  0.8, 0.5, 0.7, 0.6, 0.9, 0.6, 0.8, 0.5, 0.7, 0.6,
  0.9, 0.7, 1.0, 0.8, 1.1, 0.9, 0.7, 0.6, 0.3, 0.6,
  0.8, 0.6, 0.9, 0.7, 0.5, 0.8, 0.6, 0.9, 0.7, 1.0,
  0.8, 1.1, 0.7, 0.9, 1.2, 0.8, 0.6, 0.8, 0.5, 0.7,
  0.6, 0.8, 0.5, 0.9, 0.6, 0.4, 0.7, 0.5, 0.4, 0.6,
  0.5, 0.7, 0.4, 0.6, 0.8, 0.5, 0.7, 0.9, 0.6, 0.8,
  0.7, 1.0, 0.8, 0.6, 0.9, 1.1, 0.7, 0.9, 0.6, 0.8,
  0.7, 0.5, 0.8, 0.6, 0.9, 0.7, 1.0, 0.6, 0.8, 0.7,
  0.9, 0.6, 0.8,
];
const treeQ = [
  4.2, 3.6, 4.8, 4.3,
  5.1, 4.2, 4.6, 3.7, 4.4, 3.5, 3.9, 3.1, 3.6, 2.9,
  3.3, 2.8, 3.5, 2.6, 2.9, 2.3, 2.7, 2.2, 2.5, 2.0,
  2.9, 2.4, 3.1, 2.7, 2.2, 2.5, 1.9, 2.3, 2.0, 2.6,
  2.2, 2.5, 1.9, 2.3, 2.0, 2.4, 1.8, 2.2, 1.9, 2.5,
  2.1, 2.6, 1.8, 2.4, 2.0, 1.7, 2.3, 1.9, 2.2, 1.8,
  2.4, 2.0, 2.2, 1.7, 1.9, 1.5, 1.7, 1.3, 1.6, 1.9,
  2.3, 1.7, 2.0, 1.6, 2.2, 1.8, 1.6, 2.1, 1.7, 1.9,
  1.6, 1.9, 1.4, 1.7, 1.5, 1.3, 1.6, 1.2, 1.5, 1.4,
  1.9, 1.5, 1.7, 1.3, 1.8, 1.1, 1.4, 1.0, 1.2, 1.3,
  1.0, 1.2, 0.8, 1.1, 0.9, 1.0, 1.2, 0.8, 1.3, 1.1,
  1.5, 1.2, 1.7, 1.0, 1.4, 0.9, 1.1, 0.7, 0.8, 0.9,
  0.7, 1.4, 1.2, 1.6, 1.1, 1.4, 0.9, 1.0, 0.8, 1.2,
  1.3, 1.0, 1.4, 1.1, 1.5, 1.2, 1.0, 0.8, 1.1, 0.7,
  0.9, 1.2, 0.8, 1.1, 0.9, 1.2, 0.8, 1.0, 1.3, 0.9,
  1.2, 1.0, 1.4, 1.6, 1.3, 1.8, 1.2, 1.0, 0.5, 0.9,
  1.2, 1.0, 1.3, 1.1, 0.8, 1.2, 0.9, 1.4, 1.1, 1.3,
  1.2, 1.6, 1.1, 1.4, 1.9, 1.2, 1.0, 0.8, 1.1, 0.9,
  1.2, 0.9, 1.1, 1.4, 0.8, 0.9, 0.6, 0.8, 0.7, 0.6,
  0.9, 0.7, 1.1, 1.6, 1.3, 2.0, 1.5, 1.8, 2.3, 1.7,
  2.2, 1.8, 2.5, 1.9, 2.3, 2.8, 2.0, 2.4, 1.7, 2.1,
  1.6, 2.2, 1.8, 1.5, 1.9, 1.4, 2.6, 1.8, 2.2, 2.0,
  2.3, 1.8, 2.4,
];
const treeR = [
  1.8, 2.2,
  1.6, 2.0, 1.4, 1.7, 1.2, 1.5, 1.1, 1.4, 1.0, 1.3,
  1.1, 0.9, 1.3, 1.0, 1.2, 0.8, 1.1, 0.9, 1.2, 0.8,
  1.0, 1.3, 0.8, 1.1, 0.9, 0.7, 1.0, 0.8, 1.1, 0.7,
  0.9, 1.1, 0.7, 1.0, 0.6, 0.8, 0.6, 0.7, 0.5, 0.8,
  0.7, 1.0, 0.6, 0.9, 0.8, 0.6, 0.9, 0.7, 0.8, 0.6,
  0.8, 0.6, 0.9, 0.7, 0.5, 0.8, 0.6, 0.7, 0.5, 0.7,
  0.9, 0.6, 0.8, 0.7, 0.9, 0.5, 0.6, 0.4, 0.6, 0.5,
  0.4, 0.6, 0.5, 0.4, 0.6, 0.4, 0.5, 0.7, 0.5, 0.6,
  0.8, 0.6, 0.7, 0.5, 0.6, 0.4, 0.5, 0.3, 0.4, 0.4,
  0.3, 0.6, 0.5, 0.7, 0.5, 0.6, 0.4, 0.5, 0.3, 0.5,
  0.6, 0.4, 0.7, 0.5, 0.6, 0.8, 0.5, 0.4, 0.3, 0.5,
  0.4, 0.6, 0.4, 0.5, 0.3, 0.5, 0.4, 0.6, 0.4, 0.5,
  0.6, 0.4, 0.7, 0.8, 0.6, 0.9, 0.7, 0.5, 0.15, 0.4,
  0.6, 0.5, 0.7, 0.4, 0.3, 0.5, 0.4, 0.6, 0.5, 0.7,
  0.6, 0.8, 0.5, 0.7, 0.9, 0.6, 0.4, 0.5, 0.3, 0.5,
  0.4, 0.6, 0.5, 0.7, 0.4, 0.3, 0.4, 0.3, 0.3, 0.4,
  0.3, 0.4, 0.3, 0.5, 0.4, 0.6, 0.5, 0.4, 0.6, 0.5,
  0.6, 0.5, 0.7, 0.6, 0.5, 0.8, 0.6, 0.7, 0.5, 0.6,
  0.5, 0.7, 0.4, 0.6, 0.4, 0.5, 0.7, 0.6, 0.5, 0.7,
  0.6, 0.5, 0.7,
];
const treeS = [
  3.2, 2.6, 2.9, 2.3, 2.7, 2.1, 2.5,
  2.8, 2.2, 3.0, 2.4, 2.0, 2.6, 2.3, 1.9, 2.5, 2.1,
  2.7, 2.2, 2.5, 1.9, 2.4, 2.0, 2.6, 1.8, 2.3, 2.0,
  2.5, 2.1, 1.8, 2.3, 1.6, 1.9, 1.4, 1.6, 1.8, 2.2,
  1.9, 2.5, 2.0, 1.7, 2.3, 2.0, 2.6, 1.8, 2.1, 2.4,
  1.9, 2.2, 1.6, 1.8, 2.0, 1.5, 1.7, 1.4, 1.9, 1.6,
  2.2, 1.8, 2.5, 1.6, 2.0, 1.5, 1.3, 1.6, 1.1, 1.4,
  1.2, 1.0, 1.3, 0.9, 1.1, 1.3, 1.0, 1.4, 1.2, 1.6,
  1.9, 1.4, 1.6, 1.2, 1.5, 1.0, 1.3, 0.9, 1.0, 0.7,
  1.1, 1.7, 1.3, 1.8, 1.4, 1.9, 1.2, 1.0, 1.3, 1.1,
  1.6, 1.2, 1.8, 1.4, 2.0, 1.5, 1.2, 1.0, 0.8, 1.2,
  1.3, 1.0, 1.5, 1.1, 1.4, 1.0, 1.3, 1.5, 1.1, 1.3,
  1.5, 1.9, 1.4, 2.1, 1.7, 2.3, 1.5, 1.2, 0.6, 1.3,
  1.6, 1.3, 1.8, 1.1, 1.4, 1.0, 1.5, 1.2, 1.8, 1.4,
  2.0, 1.5, 1.7, 1.4, 2.4, 1.6, 1.2, 1.5, 1.0, 1.4,
  1.1, 1.6, 1.3, 1.9, 1.0, 0.8, 1.1, 0.7, 0.9, 0.8,
  1.3, 1.0, 1.6, 2.3, 1.5, 1.8, 1.4, 2.0, 1.7, 2.2,
  1.8, 2.5, 1.9, 2.2, 2.7, 2.1, 2.4, 1.8, 2.3, 1.7,
  2.0, 1.6, 2.3, 1.4, 1.8, 2.1, 2.5, 1.7, 2.4, 2.0,
  2.6, 2.1, 3.0,
];

const treeSeries = [treeA, treeB, treeC, treeD, treeE, treeF, treeG, treeH, treeI, treeJ,
  treeK, treeL, treeM, treeN, treeO, treeP, treeQ, treeR, treeS];
const treeStarts = [1782, 1782, 1794, 1793, 1801, 1797, 1800, 1802, 1806, 1808,
  1810, 1815, 1803, 1806, 1805, 1812, 1798, 1820, 1825];

const FONT = "'Liberation Sans', Arial, sans-serif";
const TEXT = '#222222';
const AXIS = '#a6a6a6';

function toPoints(start, values) {
  return values.map((v, i) => ({ x: start + i, y: v }));
}

const datasets = [
  {
    label: 'mean',
    data: toPoints(meanStart, meanWidth),
    borderColor: '#12994a',
    borderWidth: 3.5,
    spanGaps: true,
  },
  {
    label: 'mean recent',
    data: toPoints(recentStart, recentWidth),
    borderColor: '#5f8e6d',
    borderWidth: 4.5,
  },
];
treeSeries.forEach((vals, i) => {
  datasets.push({
    label: 'tree ' + (i + 1),
    data: toPoints(treeStarts[i], vals),
    borderColor: 'rgba(20, 20, 20, 0.9)',
    borderWidth: i % 3 === 2 ? 0.9 : 1.2,
  });
});

// free texts: title, y-axis title, x-axis title
const textPlugin = {
  id: 'textPlugin',
  afterDraw(chart) {
    const ctx = chart.ctx;
    ctx.save();
    ctx.fillStyle = TEXT;
    ctx.textBaseline = 'middle';

    ctx.font = '20px ' + FONT;
    ctx.textAlign = 'center';
    ctx.fillText('DL', 446, 31);

    ctx.font = '18px ' + FONT;
    ctx.textAlign = 'right';
    ctx.fillText('lata/years', 852, 354);

    ctx.save();
    ctx.font = '17.4px ' + FONT;
    ctx.translate(19, 9);
    ctx.rotate(-Math.PI / 2);
    ctx.textAlign = 'right';
    ctx.fillText('szerokość przyrostu rocznego /tree-ring  width', 0, 0);
    ctx.restore();

    ctx.save();
    ctx.translate(44, 215);
    ctx.rotate(-Math.PI / 2);
    ctx.textAlign = 'center';
    ctx.fillText('[mm]', 0, 0);
    ctx.restore();

    ctx.restore();
  },
};

const ringChart = new Chart(document.getElementById('ringChart'), {
  type: 'line',
  data: { datasets: datasets },
  options: {
    responsive: false,
    animation: false,
    devicePixelRatio: 1,
    layout: { padding: { top: 22, right: 3, left: 0, bottom: 0 } },
    elements: {
      point: { radius: 0 },
      line: { tension: 0, borderJoinStyle: 'round' },
    },
    plugins: {
      legend: { display: false },
      tooltip: { enabled: false },
    },
    scales: {
      x: {
        type: 'linear',
        min: 1782,
        max: 2015,
        afterBuildTicks: (scale) => {
          scale.ticks = tickYears.map((v) => ({ value: v }));
        },
        afterFit: (scale) => {
          scale.height = 52;
        },
        grid: {
          drawOnChartArea: false,
          drawTicks: true,
          tickLength: 6,
          color: AXIS,
          lineWidth: 1.5,
        },
        border: { color: AXIS, width: 2 },
        ticks: {
          autoSkip: false,
          maxRotation: 0,
          padding: 2,
          color: TEXT,
          font: { family: FONT, size: 16 },
          callback: (value) => (labelYears.includes(value) ? String(value) : ''),
        },
      },
      y: {
        min: 0,
        max: 10,
        afterBuildTicks: (scale) => {
          scale.ticks = yTicks.map((v) => ({ value: v }));
        },
        afterFit: (scale) => {
          scale.width = 117;
        },
        grid: {
          drawOnChartArea: false,
          drawTicks: true,
          tickLength: 5,
          color: AXIS,
          lineWidth: 1.5,
        },
        border: { color: AXIS, width: 2 },
        ticks: {
          padding: 3,
          color: TEXT,
          font: { family: FONT, size: 17 },
        },
      },
    },
  },
  plugins: [textPlugin],
});
</script>
</body>
</html>
